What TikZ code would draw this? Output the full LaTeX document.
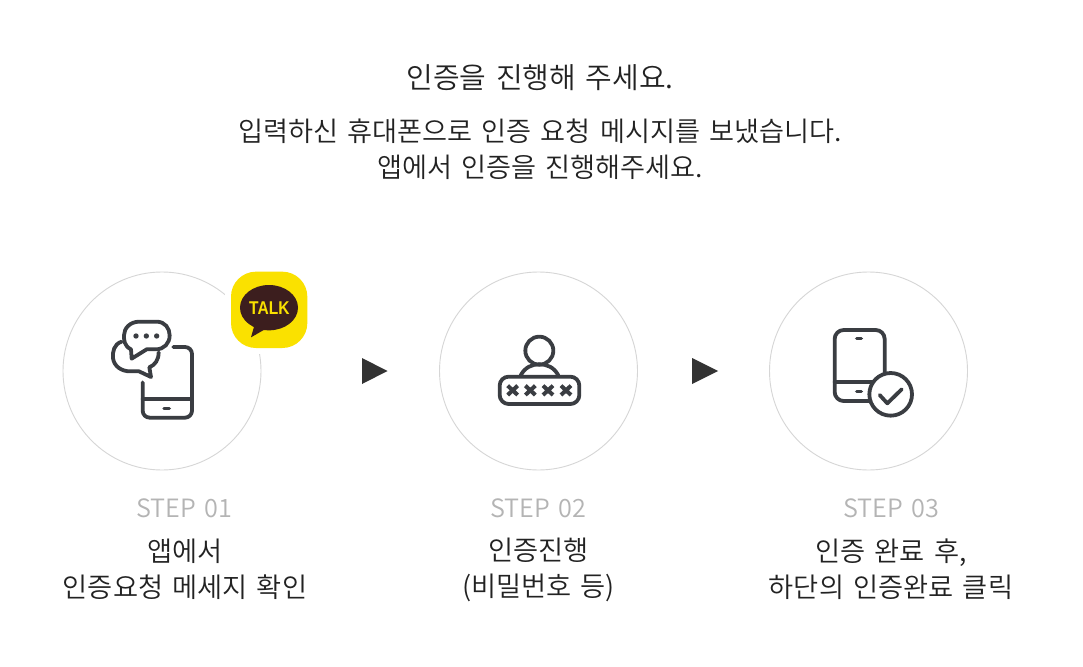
\documentclass[tikz,border=0pt]{standalone}
\usepackage{fontspec}
\setmainfont{Noto Sans CJK KR DemiLight}[WordSpace=1.5]
\newfontfamily\talkfont{Liberation Sans}
\definecolor{ink}{HTML}{3A3D42}
\definecolor{arrowink}{HTML}{333333}
\definecolor{txt}{HTML}{222222}
\definecolor{stepgrey}{HTML}{B4B4B4}
\definecolor{ringgrey}{HTML}{D6D6D6}
\definecolor{kakaoyellow}{HTML}{FAE100}
\definecolor{kakaobrown}{HTML}{3C1E1E}
\tikzset{
  ring/.style={draw=ringgrey,line width=0.9pt,fill=white,circle,minimum size=198pt,inner sep=0pt},
  headline/.style={font=\fontsize{29pt}{30pt}\selectfont,text=txt,inner sep=0pt,anchor=center},
  sub/.style={font=\fontsize{27.2pt}{36pt}\selectfont,text=txt,inner sep=0pt,align=center,anchor=center},
  steptitle/.style={font=\fontsize{25.2pt}{30pt}\selectfont,text=stepgrey,inner sep=0pt,anchor=center},
  steplabel/.style={font=\fontsize{27.3pt}{36pt}\selectfont,text=txt,inner sep=0pt,align=center,anchor=center},
  pointer/.style={fill=arrowink,draw=none},
  iconline/.style={draw=ink,line width=3.8pt,line cap=round,line join=round},
}
\begin{document}
\begin{tikzpicture}[x=1pt,y=-1pt]
\useasboundingbox[fill=white] (0,0) rectangle (1083,666);

\node[headline] (title) at (540,78) {인증을 진행해 주세요.};
\node[sub] (intro) at (540,149.5) {입력하신 휴대폰으로 인증 요청 메시지를 보냈습니다.\\앱에서 인증을 진행해주세요.};

\node[ring] (c1) at (162,371) {};
\node[ring] (c2) at (538.5,371) {};
\node[ring] (c3) at (868.5,371) {};

% step 1 icon and KakaoTalk badge
\begin{scope}[shift={(50,260)},x=1pt/3,y=-1pt/3]
  \fill[white] (525,15) rectangle (790,283);
  \fill[kakaoyellow,rounded corners=75pt/3] (543,35) rectangle (772,264);
  \fill[kakaobrown] (657,143) ellipse [x radius=87,y radius=68];
  \fill[kakaobrown] (615,190) -- (603,232) -- (650,205) -- cycle;
  \node[font=\talkfont\bfseries\fontsize{18.5pt}{18pt}\selectfont,text=kakaoyellow,inner sep=0pt,xscale=.84] (talk) at (658,145) {TALK};
  % phone
  \draw[iconline,rounded corners=21pt/3] (370,261) -- (426,261) -- (426,473) -- (278,473) -- (278,367);
  \draw[iconline] (278,418) -- (426,418);
  \draw[draw=ink,line width=3.4pt,line cap=round] (342,446) -- (358,446);
  % bubbles
  \draw[iconline] (215,245) .. controls (192,252) and (187,275) .. (189,295) .. controls (193,320) and (215,334) .. (240,334) -- (267,334) -- (303,351) -- (298,322) .. controls (315,315) and (326,300) .. (326,277);
  \draw[iconline] (268,185) -- (320,185) .. controls (345,185) and (359,205) .. (359,226) .. controls (359,250) and (342,268) .. (318,268) -- (290,268) -- (245,296) -- (243,268) .. controls (222,258) and (222,240) .. (222,226) .. controls (222,205) and (240,185) .. (268,185) -- cycle;
  \fill[ink] (258,228) circle[radius=8] (289,228) circle[radius=8] (320,228) circle[radius=8];
\end{scope}

% step 2 icon
\begin{scope}[shift={(430,260)},x=1pt/3,y=-1pt/3]
  \draw[iconline] (328,272) circle[radius=42];
  \draw[iconline] (272,346) .. controls (285,322) and (305,313) .. (328,313) .. controls (352,313) and (372,322) .. (385,346);
  \draw[iconline,rounded corners=27pt/3,fill=white] (209,350) rectangle (448,432);
  \foreach \xx in {248,301,354,408}{
    \draw[draw=ink,line width=4pt] (\xx-15,377) -- (\xx+15,405) (\xx-15,405) -- (\xx+15,377);
  }
\end{scope}

% step 3 icon
\begin{scope}[shift={(760,260)},x=1pt/3,y=-1pt/3]
  \draw[iconline,rounded corners=27pt/3] (224,210) rectangle (374,423);
  \draw[iconline] (224,367) -- (374,367);
  \draw[draw=ink,line width=3.4pt,line cap=round] (290,236) -- (304,236) (290,394) -- (304,394);
  \draw[draw=ink,line width=3.8pt,fill=white] (392,403) circle[radius=64];
  \draw[iconline] (359,405) -- (382,430) -- (425,388);
\end{scope}

% pointers
\fill[pointer] (362,358) -- (387.5,371) -- (362,384) -- cycle;
\fill[pointer] (692,358) -- (718,371) -- (692,384) -- cycle;

\node[steptitle] (s1) at (184.5,508.5) {STEP 01};
\node[steptitle] (s2) at (538.5,508.5) {STEP 02};
\node[steptitle] (s3) at (891,508.5) {STEP 03};

\node[steplabel] (l1) at (185,569.5) {앱에서\\인증요청 메세지 확인};
\node[steplabel] (l2) at (538.5,569.5) {인증진행\\(비밀번호 등)};
\node[steplabel] (l3) at (891,569.5) {인증 완료 후,\\하단의 인증완료 클릭};
\end{tikzpicture}
\end{document}
